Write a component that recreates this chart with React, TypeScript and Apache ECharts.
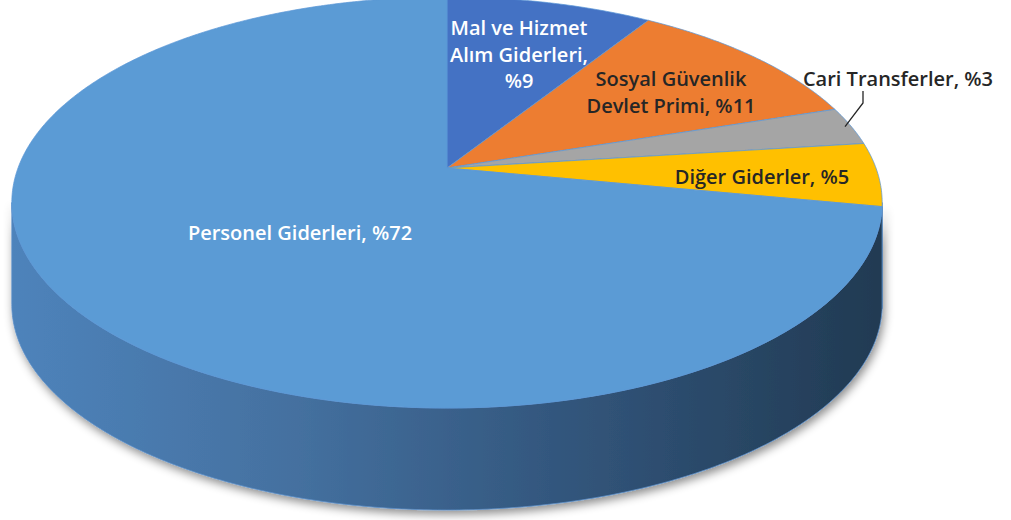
import React, { useEffect, useRef } from "react";
import * as echarts from "echarts";

// Slices in clockwise order starting from 12 o'clock
const categories = [
  "Mal ve Hizmet Alım Giderleri",
  "Sosyal Güvenlik Devlet Primi",
  "Cari Transferler",
  "Diğer Giderler",
  "Personel Giderleri",
];
const shares = [9, 11, 3, 5, 72];
const labelTexts = [
  "Mal ve Hizmet\nAlım Giderleri,\n%9",
  "Sosyal Güvenlik\nDevlet Primi, %11",
  "Cari Transferler, %3",
  "Diğer Giderler, %5",
  "Personel Giderleri, %72",
];
const colors = ["#4472C4", "#ED7D31", "#A5A5A5", "#FFC000", "#5B9BD5"];

// label placement (style/layout, separate from the data)
const labelLayout = [
  { x: 519, y: 54, align: "center", color: "#ffffff", lh: 26.5 },
  { x: 671, y: 92, align: "center", color: "#262626", lh: 27 },
  { x: 898, y: 78, align: "center", color: "#262626", lh: 24 },
  { x: 762, y: 176, align: "center", color: "#262626", lh: 24 },
  { x: 300, y: 232, align: "center", color: "#ffffff", lh: 24 },
];

// projection of the tilted disc (perspective)
const CX = 447;
const CY = 168;
const RA = 429;
const RB = 199.7;
const P = 0.168;
const H = 102;

function proj(a: number, drop = 0, r = 1): number[] {
  const X = Math.sin(a) * r;
  const Z = Math.cos(a) * r;
  const w = 1 + P * Z;
  return [CX + (RA * X) / w, CY - (RB * Z) / w + drop];
}

const total = shares.reduce((s, v) => s + v, 0);
function sliceAngles(i: number): number[] {
  let before = 0;
  for (let k = 0; k < i; k++) before += shares[k];
  const s = (before / total) * Math.PI * 2;
  const e = ((before + shares[i]) / total) * Math.PI * 2;
  return [s, e];
}

function arcPoints(s: number, e: number, drop = 0): number[][] {
  const pts: number[][] = [];
  const n = Math.max(2, Math.ceil(((e - s) * 180) / Math.PI / 0.5));
  for (let k = 0; k <= n; k++) pts.push(proj(s + ((e - s) * k) / n, drop));
  return pts;
}

const aRight = Math.acos(-P);
const aLeft = Math.PI * 2 - aRight;

export default function App() {
  const ref = useRef<HTMLDivElement>(null);
  useEffect(() => {
    document.body.style.margin = "0";
    if (!ref.current) return;
    const chart = echarts.init(ref.current, undefined, { renderer: "svg" });
    const wallGradient = new echarts.graphic.LinearGradient(
      0,
      0,
      1,
      0,
      [
        { offset: 0, color: "#4e83bb" },
        { offset: 0.33, color: "#44709f" },
        { offset: 0.62, color: "#33577e" },
        { offset: 1, color: "#213a52" },
      ]
    );
    const option: any = {
      animation: false,
      backgroundColor: "#ffffff",
      series: [
        {
          type: "custom",
          coordinateSystem: "none",
          z: 1,
          data: shares.map((v) => [v]),
          renderItem: (params: any) => {
            const i = params.dataIndex;
            const [s, e] = sliceAngles(i);
            const lo = Math.max(s, aRight);
            const hi = Math.min(e, aLeft);
            if (hi <= lo) return { type: "group", children: [] };
            const top = arcPoints(lo, hi, 0);
            const bottom = arcPoints(lo, hi, H).reverse();
            return {
              type: "polygon",
              shape: { points: top.concat(bottom) },
              style: {
                fill: i === 4 ? wallGradient : colors[i],
                stroke: "#5a8ec8",
                lineWidth: 0.8,
                shadowBlur: 10,
                shadowColor: "rgba(0,0,0,0.45)",
                shadowOffsetX: 2,
                shadowOffsetY: 4,
              },
            };
          },
        },
        {
          type: "custom",
          coordinateSystem: "none",
          z: 2,
          data: shares.map((v) => [v]),
          renderItem: (params: any) => {
            const i = params.dataIndex;
            const [s, e] = sliceAngles(i);
            const pts = [[CX, CY]].concat(arcPoints(s, e, 0));
            const lay = labelLayout[i];
            const children: any[] = [
              {
                type: "polygon",
                shape: { points: pts },
                style: {
                  fill: colors[i],
                  stroke: "rgba(90,150,215,0.9)",
                  lineWidth: 0.8,
                },
              },
              {
                type: "text",
                z2: 10,
                style: {
                  x: lay.x,
                  y: lay.y,
                  text: labelTexts[i],
                  fill: lay.color,
                  fontFamily: "Open Sans",
                  fontWeight: 600,
                  fontSize: 20,
                  lineHeight: lay.lh,
                  align: lay.align,
                  verticalAlign: "middle",
                },
              },
            ];
            if (i === 2) {
              const mid = (s + e) / 2;
              const end = proj(mid, 0, 0.985);
              children.push({
                type: "polyline",
                z2: 10,
                shape: {
                  points: [
                    [863, 91],
                    [863, 103],
                    end,
                  ],
                },
                style: { stroke: "#262626", lineWidth: 1.3, fill: "none" },
              });
            }
            return { type: "group", children };
          },
        },
      ],
    };
    chart.setOption(option);
    return () => chart.dispose();
  }, []);
  return <div ref={ref} style={{ width: 1011, height: 520 }} />;
}
